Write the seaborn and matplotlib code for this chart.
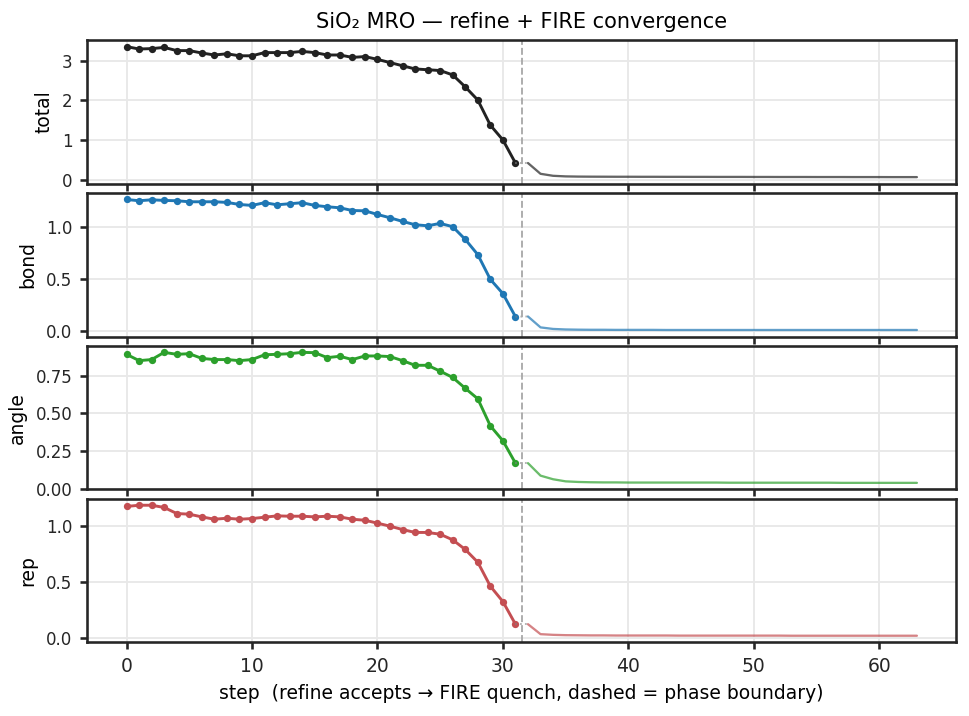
import numpy as np
import pandas as pd
import matplotlib
matplotlib.use("Agg")
import matplotlib.pyplot as plt
import seaborn as sns

# ---- data ----
refine_steps = list(range(0, 32))
fire_steps = list(range(32, 64))

total_refine = [3.35, 3.29, 3.30, 3.33, 3.25, 3.25, 3.19, 3.14, 3.17, 3.12,
                3.12, 3.20, 3.20, 3.20, 3.23, 3.20, 3.14, 3.14, 3.08, 3.10,
                3.03, 2.95, 2.87, 2.79, 2.77, 2.75, 2.64, 2.34, 2.01, 1.38,
                1.01, 0.43]
total_fire = [0.43, 0.16, 0.11, 0.095, 0.090, 0.088, 0.087, 0.086, 0.086, 0.085,
              0.085, 0.084, 0.084, 0.083, 0.083, 0.082, 0.082, 0.082, 0.081, 0.081,
              0.080, 0.080, 0.080, 0.079, 0.079, 0.079, 0.078, 0.078, 0.078, 0.077,
              0.077, 0.077]

bond_refine = [1.266, 1.254, 1.263, 1.257, 1.254, 1.244, 1.244, 1.244, 1.238, 1.218,
               1.209, 1.235, 1.215, 1.225, 1.235, 1.209, 1.196, 1.186, 1.160, 1.157,
               1.122, 1.090, 1.055, 1.023, 1.013, 1.036, 1.004, 0.882, 0.735, 0.497,
               0.360, 0.138]
bond_fire = [0.140, 0.035, 0.020, 0.015, 0.013, 0.012, 0.012, 0.011, 0.011, 0.011,
             0.011, 0.010, 0.010, 0.010, 0.010, 0.010, 0.010, 0.010, 0.010, 0.010,
             0.010, 0.010, 0.010, 0.010, 0.010, 0.010, 0.010, 0.010, 0.010, 0.010,
             0.010, 0.010]

angle_refine = [0.893, 0.851, 0.858, 0.906, 0.893, 0.897, 0.866, 0.858, 0.858, 0.851,
                0.858, 0.890, 0.893, 0.897, 0.906, 0.904, 0.871, 0.880, 0.858, 0.882,
                0.882, 0.878, 0.851, 0.820, 0.820, 0.781, 0.739, 0.667, 0.597, 0.417,
                0.318, 0.169]
angle_fire = [0.169, 0.086, 0.062, 0.048, 0.044, 0.042, 0.041, 0.041, 0.040, 0.040,
              0.040, 0.040, 0.040, 0.040, 0.040, 0.040, 0.039, 0.039, 0.039, 0.039,
              0.039, 0.039, 0.039, 0.039, 0.039, 0.038, 0.038, 0.038, 0.038, 0.038,
              0.038, 0.038]

rep_refine = [1.170, 1.181, 1.181, 1.161, 1.107, 1.101, 1.077, 1.056, 1.065, 1.056,
              1.062, 1.074, 1.086, 1.083, 1.083, 1.077, 1.083, 1.077, 1.056, 1.047,
              1.021, 0.994, 0.964, 0.938, 0.938, 0.922, 0.872, 0.786, 0.672, 0.458,
              0.321, 0.119]
rep_fire = [0.119, 0.030, 0.024, 0.021, 0.020, 0.019, 0.019, 0.018, 0.018, 0.018,
            0.018, 0.018, 0.017, 0.017, 0.017, 0.017, 0.017, 0.017, 0.017, 0.017,
            0.017, 0.016, 0.016, 0.016, 0.016, 0.016, 0.016, 0.016, 0.016, 0.016,
            0.016, 0.016]

panel_names = ["total", "bond", "angle", "rep"]
panel_colors = ["#222222", "#1f77b4", "#2ca02c", "#c44e52"]
refine_series = [total_refine, bond_refine, angle_refine, rep_refine]
fire_series = [total_fire, bond_fire, angle_fire, rep_fire]
boundary = 31.5

title = "SiO\u2082 MRO \u2014 refine + FIRE convergence"
xlabel = "step  (refine accepts \u2192 FIRE quench, dashed = phase boundary)"

# ---- plot ----
sns.set_theme(style="ticks")
plt.rcParams["font.family"] = ["DejaVu Sans"]
plt.rcParams["text.color"] = "black"
plt.rcParams["axes.labelcolor"] = "black"
plt.rcParams["xtick.color"] = "#262626"
plt.rcParams["ytick.color"] = "#262626"

fig, axes = plt.subplots(4, 1, sharex=True, figsize=(969 / 150, 716 / 150), dpi=150)
fig.subplots_adjust(left=0.0898, right=0.987, top=0.944, bottom=0.103, hspace=0.065)

for ax, name, col, ref, fir in zip(axes, panel_names, panel_colors, refine_series, fire_series):
    dref = pd.DataFrame({"step": refine_steps, "v": ref})
    dfir = pd.DataFrame({"step": fire_steps, "v": fir})
    sns.lineplot(data=dref, x="step", y="v", ax=ax, color=col, lw=1.4,
                 marker="o", markersize=3.5, markeredgewidth=0)
    sns.lineplot(data=dfir, x="step", y="v", ax=ax, color=col, lw=1.1, alpha=0.7)
    ax.plot([refine_steps[-1], fire_steps[0]], [ref[-1], fir[0]], ls=":",
            color="grey", lw=0.9, alpha=0.6)
    ax.axvline(boundary, color="#aaaaaa", ls="--", lw=0.9)
    ax.set_ylabel(name, fontsize=9)
    ax.set_xlabel("")
    ax.grid(True, color="#e8e8e8", lw=0.9)
    ax.set_axisbelow(True)
    ax.tick_params(axis="y", labelsize=8, length=3.5)
    ax.tick_params(axis="x", labelsize=9, length=3.5)

axes[0].set_yticks([0, 1, 2, 3])
axes[1].set_yticks([0.0, 0.5, 1.0])
axes[2].set_yticks([0.0, 0.25, 0.5, 0.75])
axes[3].set_yticks([0.0, 0.5, 1.0])
axes[3].set_xticks([0, 10, 20, 30, 40, 50, 60])
axes[0].set_title(title, fontsize=10)
axes[3].set_xlabel(xlabel, fontsize=9)

fig.savefig("out.png", dpi=150)
